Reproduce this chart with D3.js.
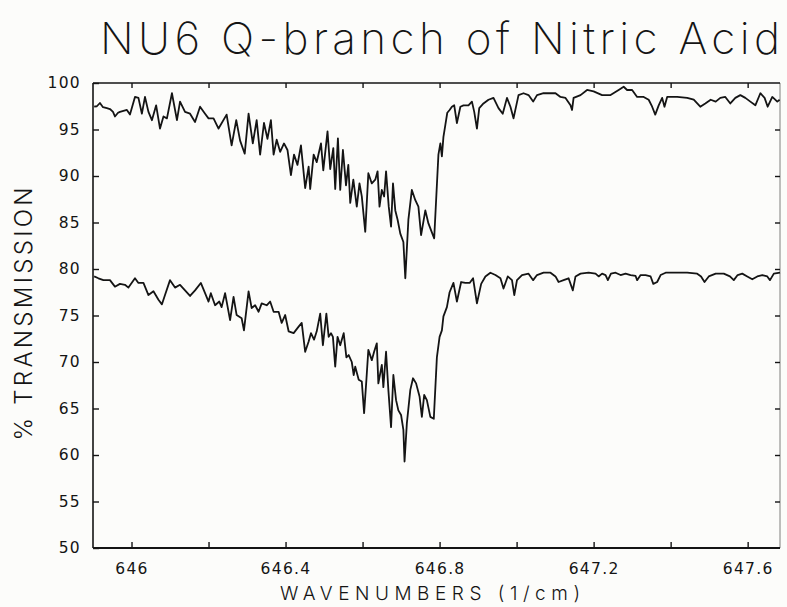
<!DOCTYPE html>
<html>
<head>
<meta charset="utf-8">
<script src="https://cdn.jsdelivr.net/npm/d3@7/dist/d3.min.js"></script>
<style>
  html, body { margin: 0; padding: 0; background: #fcfcfa; }
  svg { display: block; }
</style>
</head>
<body>
<svg id="chart" width="787" height="607"></svg>
<script>
// Upper spectrum: wavenumber (1/cm) and % transmission
const upperWavenumber = [
  645.903, 645.910, 645.918, 645.926, 645.936, 645.944, 645.952, 645.957, 645.965, 645.970,
  645.988, 645.996, 646.009, 646.018, 646.027, 646.035, 646.044, 646.053, 646.064, 646.074,
  646.083, 646.092, 646.105, 646.118, 646.126, 646.139, 646.152, 646.165, 646.178, 646.191,
  646.200, 646.213, 646.226, 646.247, 646.260, 646.272, 646.282, 646.294, 646.304, 646.315,
  646.325, 646.334, 646.344, 646.353, 646.362, 646.369, 646.377, 646.386, 646.396, 646.405,
  646.414, 646.422, 646.431, 646.440, 646.451, 646.460, 646.464, 646.473, 646.481, 646.492,
  646.498, 646.509, 646.516, 646.524, 646.529, 646.536, 646.542, 646.549, 646.557, 646.563,
  646.568, 646.576, 646.585, 646.592, 646.598, 646.607, 646.615, 646.624, 646.633, 646.639,
  646.644, 646.650, 646.656, 646.661, 646.668, 646.674, 646.679, 646.685, 646.691, 646.698,
  646.706, 646.711, 646.719, 646.728, 646.737, 646.745, 646.752, 646.763, 646.771, 646.786,
  646.797, 646.802, 646.806, 646.810, 646.815, 646.820, 646.826, 646.832, 646.838, 646.845,
  646.854, 646.862, 646.875, 646.884, 646.890, 646.897, 646.903, 646.914, 646.927, 646.940,
  646.953, 646.964, 646.975, 646.984, 646.992, 647.005, 647.018, 647.031, 647.043, 647.053,
  647.070, 647.088, 647.101, 647.114, 647.127, 647.140, 647.144, 647.148, 647.166, 647.183,
  647.200, 647.222, 647.244, 647.265, 647.278, 647.287, 647.300, 647.313, 647.330, 647.343,
  647.352, 647.360, 647.369, 647.378, 647.384, 647.391, 647.417, 647.443, 647.460, 647.477,
  647.490, 647.504, 647.517, 647.529, 647.542, 647.555, 647.568, 647.581, 647.594, 647.607,
  647.620, 647.633, 647.644, 647.652, 647.664, 647.677, 647.683
];
const upperTransmission = [
  97.45, 97.5, 97.85, 97.4, 97.3, 97.2, 96.9, 96.4, 96.8, 96.9,
  97.1, 96.6, 98.5, 98.4, 96.7, 98.5, 96.9, 96.0, 97.6, 95.1,
  96.4, 96.2, 98.9, 96.0, 98.0, 96.9, 96.7, 95.8, 97.45, 96.7,
  96.2, 96.2, 95.1, 96.6, 93.3, 96.0, 93.8, 92.4, 96.7, 93.5,
  96.0, 92.3, 95.7, 94.0, 96.0, 92.3, 93.9, 92.6, 93.5, 92.8,
  90.1, 92.3, 91.2, 93.3, 88.7, 91.0, 88.6, 92.3, 91.5, 93.5,
  90.6, 94.8, 90.75, 93.0, 88.6, 94.05, 88.5, 92.8, 89.0, 91.2,
  87.1, 89.6, 86.7, 89.2, 87.8, 84.0, 90.3, 89.2, 89.6, 90.5,
  86.7, 88.5, 87.8, 90.5, 86.7, 84.55, 89.2, 86.3, 85.3, 83.8,
  82.9, 79.0, 85.3, 88.5, 87.4, 86.7, 83.65, 86.3, 84.9, 83.3,
  92.3, 93.5, 92.1, 94.2, 95.5, 96.8, 97.1, 97.45, 97.6, 95.7,
  97.45, 97.6, 97.6, 98.0, 96.9, 95.1, 97.3, 97.8, 98.2, 98.4,
  97.3, 96.7, 98.4, 97.45, 96.2, 98.7, 98.9, 98.7, 98.0, 98.7,
  98.9, 98.9, 98.9, 98.5, 98.4, 97.6, 97.1, 98.4, 98.7, 99.25,
  99.1, 98.7, 98.7, 99.25, 99.6, 99.25, 99.25, 98.5, 98.5, 98.2,
  97.45, 96.6, 97.6, 98.4, 97.45, 98.5, 98.5, 98.4, 98.2, 97.45,
  97.8, 98.2, 98.0, 98.4, 98.5, 97.8, 98.4, 98.7, 98.4, 98.0,
  97.6, 98.9, 98.4, 97.45, 98.5, 98.0, 98.2
];

// Lower spectrum: wavenumber (1/cm) and % transmission
const lowerWavenumber = [
  645.903, 645.914, 645.927, 645.944, 645.957, 645.970, 645.983, 645.992, 646.009, 646.018,
  646.031, 646.044, 646.057, 646.070, 646.079, 646.087, 646.100, 646.113, 646.126, 646.139,
  646.152, 646.165, 646.180, 646.191, 646.200, 646.206, 646.217, 646.228, 646.234, 646.243,
  646.256, 646.265, 646.273, 646.286, 646.292, 646.304, 646.312, 646.321, 646.330, 646.338,
  646.351, 646.360, 646.369, 646.382, 646.390, 646.399, 646.408, 646.421, 646.434, 646.442,
  646.451, 646.460, 646.466, 646.474, 646.481, 646.490, 646.497, 646.506, 646.512, 646.518,
  646.523, 646.529, 646.535, 646.542, 646.551, 646.558, 646.564, 646.572, 646.577, 646.581,
  646.590, 646.598, 646.604, 646.610, 646.615, 646.624, 646.630, 646.637, 646.641, 646.650,
  646.654, 646.661, 646.667, 646.674, 646.680, 646.687, 646.693, 646.700, 646.706, 646.709,
  646.715, 646.724, 646.731, 646.739, 646.748, 646.754, 646.760, 646.767, 646.776, 646.785,
  646.793, 646.800, 646.806, 646.810, 646.819, 646.826, 646.836, 646.845, 646.856, 646.867,
  646.878, 646.887, 646.897, 646.908, 646.919, 646.932, 646.945, 646.958, 646.966, 646.977,
  646.988, 646.994, 647.001, 647.014, 647.031, 647.043, 647.053, 647.070, 647.088, 647.101,
  647.109, 647.122, 647.135, 647.146, 647.153, 647.166, 647.187, 647.205, 647.213, 647.222,
  647.231, 647.237, 647.245, 647.257, 647.270, 647.283, 647.296, 647.309, 647.313, 647.322,
  647.335, 647.348, 647.355, 647.365, 647.374, 647.387, 647.408, 647.443, 647.469, 647.479,
  647.488, 647.499, 647.517, 647.538, 647.554, 647.564, 647.574, 647.586, 647.599, 647.612,
  647.625, 647.638, 647.651, 647.658, 647.668, 647.684
];
const lowerTransmission = [
  79.2, 79.0, 78.8, 78.8, 78.1, 78.4, 78.3, 78.0, 79.0, 78.5,
  78.5, 77.2, 77.6, 76.7, 76.2, 77.2, 78.8, 78.0, 78.3, 77.7,
  77.1, 77.7, 78.5, 77.4, 76.5, 77.4, 76.1, 76.5, 75.9, 77.4,
  74.5, 77.0, 75.05, 74.7, 73.4, 77.6, 75.8, 76.1, 75.4, 76.3,
  76.1, 76.5, 75.4, 75.4, 74.2, 75.05, 73.3, 73.1, 73.8, 74.2,
  71.1, 72.2, 73.1, 72.4, 73.3, 75.2, 71.8, 75.2, 72.7, 73.1,
  72.7, 69.5, 72.7, 71.8, 73.1, 70.5, 70.75, 70.0, 68.6, 69.5,
  68.1, 67.9, 64.5, 68.1, 71.3, 70.2, 71.1, 72.0, 67.7, 69.7,
  67.3, 71.1, 67.0, 63.0, 68.6, 65.9, 64.8, 64.3, 62.7, 59.3,
  63.4, 67.0, 68.25, 67.7, 66.3, 64.1, 66.45, 65.9, 64.1, 63.9,
  70.5, 72.7, 73.4, 74.9, 75.9, 77.5, 78.5, 76.5, 78.6, 78.5,
  78.5, 79.0, 76.3, 78.4, 79.2, 79.6, 79.35, 79.0, 77.9, 79.2,
  78.8, 77.2, 78.8, 79.35, 79.5, 78.8, 79.35, 79.6, 79.6, 79.2,
  78.6, 78.8, 79.0, 77.7, 79.2, 79.5, 79.6, 79.5, 79.2, 79.5,
  79.35, 78.8, 79.5, 79.6, 79.35, 79.5, 79.35, 79.25, 78.8, 79.35,
  79.35, 79.2, 78.4, 78.6, 79.35, 79.6, 79.6, 79.6, 79.5, 79.2,
  78.6, 79.2, 79.5, 79.5, 79.2, 78.8, 79.35, 79.5, 79.2, 78.9,
  79.2, 79.35, 79.2, 78.8, 79.5, 79.6
];

// Axis ticks and labels
const yTicks = [50, 55, 60, 65, 70, 75, 80, 85, 90, 95, 100];
const xTicks = [646.0, 646.2, 646.4, 646.6, 646.8, 647.0, 647.2, 647.4, 647.6];
const xTickLabels = ["646", "646.4", "646.8", "647.2", "647.6"];
const titleText = "NU6 Q-branch of Nitric Acid";
const xTitleText = "WAVENUMBERS (1/cm)";
const yTitleText = "% TRANSMISSION";

const plotLeft = 93, plotRight = 780, plotTop = 83, plotBottom = 548;
const ink = "#141414";
const tickFont = "'DejaVu Sans', sans-serif";
const lightFont = "Inter, Lato, 'Open Sans', 'DejaVu Sans', sans-serif";

const svg = d3.select("#chart");

const x = d3.scaleLinear().domain([645.9, 647.684]).range([plotLeft, plotRight]);
const y = d3.scaleLinear().domain([50, 100]).range([plotBottom, plotTop]);

// Frame lines
const frame = svg.append("g").attr("stroke", ink).attr("fill", "none");
frame.append("line").attr("x1", plotLeft).attr("x2", plotLeft).attr("y1", plotTop).attr("y2", plotBottom).attr("stroke-width", 1.6);
frame.append("line").attr("x1", plotLeft).attr("x2", plotRight).attr("y1", plotBottom).attr("y2", plotBottom).attr("stroke-width", 2.2);
frame.append("line").attr("x1", plotLeft).attr("x2", plotRight).attr("y1", plotTop).attr("y2", plotTop).attr("stroke-width", 1.6);
frame.append("line").attr("x1", plotRight).attr("x2", plotRight).attr("y1", plotTop).attr("y2", plotBottom).attr("stroke-width", 0.9).attr("stroke-opacity", 0.6);

function styleAxis(g) {
  g.select(".domain").remove();
  g.selectAll(".tick line").attr("stroke", ink).attr("stroke-width", 1.4);
  g.selectAll(".tick text")
    .attr("fill", ink)
    .style("font-family", tickFont)
    .style("font-size", "15.5px")
    .style("letter-spacing", "1.3px");
}

// Left axis with labels, ticks pointing inward
svg.append("g")
  .attr("transform", `translate(${plotLeft},0)`)
  .call(d3.axisLeft(y).tickValues(yTicks).tickSize(-6).tickPadding(12).tickFormat(d3.format("d")))
  .call(styleAxis);

// Right axis ticks only
svg.append("g")
  .attr("transform", `translate(${plotRight},0)`)
  .call(d3.axisRight(y).tickValues(yTicks.slice(1, -1)).tickSize(-5).tickFormat(""))
  .call(styleAxis);

// Bottom axis: ticks every 0.2, labels every 0.4
const labelFor = d => {
  const s = String(+d.toFixed(1));
  return xTickLabels.includes(s) ? s : "";
};
svg.append("g")
  .attr("transform", `translate(0,${plotBottom})`)
  .call(d3.axisBottom(x).tickValues(xTicks).tickSize(-6).tickPadding(15).tickFormat(labelFor))
  .call(styleAxis);

// Top axis ticks only
svg.append("g")
  .attr("transform", `translate(0,${plotTop})`)
  .call(d3.axisTop(x).tickValues(xTicks).tickSize(-5).tickFormat(""))
  .call(styleAxis);

// Spectra
const line = d3.line().x(d => x(d[0])).y(d => y(d[1]));
const traces = [
  d3.zip(upperWavenumber, upperTransmission),
  d3.zip(lowerWavenumber, lowerTransmission)
];
svg.append("g")
  .selectAll("path")
  .data(traces)
  .join("path")
  .attr("d", line)
  .attr("fill", "none")
  .attr("stroke", ink)
  .attr("stroke-width", 1.8)
  .attr("stroke-linejoin", "round");

// Titles
svg.append("text")
  .attr("x", 100).attr("y", 54)
  .attr("textLength", 680).attr("lengthAdjust", "spacing")
  .style("font-family", lightFont).style("font-weight", 200).style("font-size", "44px")
  .attr("fill", ink)
  .text(titleText);

svg.append("text")
  .attr("x", 430).attr("y", 600)
  .attr("text-anchor", "middle")
  .attr("textLength", 300).attr("lengthAdjust", "spacing")
  .style("font-family", lightFont).style("font-weight", 300).style("font-size", "19px")
  .attr("fill", ink)
  .text(xTitleText);

svg.append("text")
  .attr("transform", "translate(32,314) rotate(-90)")
  .attr("text-anchor", "middle")
  .attr("textLength", 253).attr("lengthAdjust", "spacing")
  .style("font-family", lightFont).style("font-weight", 300).style("font-size", "24px")
  .attr("fill", ink)
  .text(yTitleText);
</script>
</body>
</html>
